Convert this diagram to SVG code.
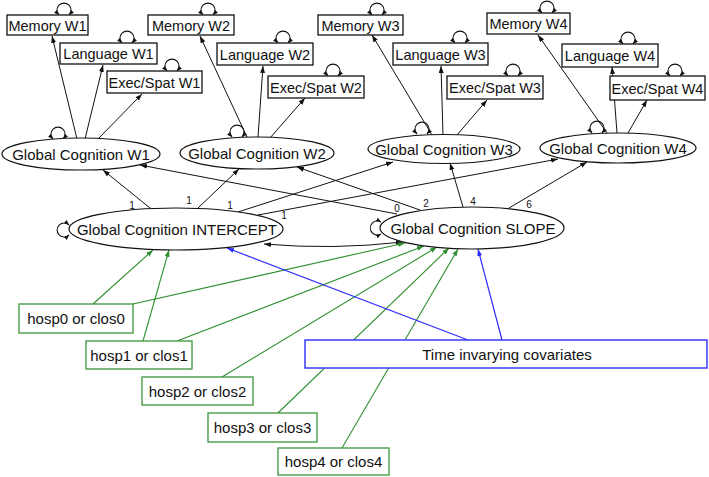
<svg xmlns="http://www.w3.org/2000/svg" width="709" height="477" viewBox="0 0 709 477">
<defs>
<marker id="ak" markerUnits="userSpaceOnUse" markerWidth="8" markerHeight="6" refX="7" refY="2.5" orient="auto-start-reverse"><path d="M0,0 L7,2.5 L0,5 z" fill="#111"/></marker>
<marker id="ag" markerUnits="userSpaceOnUse" markerWidth="8" markerHeight="6" refX="7" refY="2.5" orient="auto"><path d="M0,0 L7,2.5 L0,5 z" fill="#2f8f2f"/></marker>
<marker id="ab" markerUnits="userSpaceOnUse" markerWidth="8" markerHeight="6" refX="7" refY="2.5" orient="auto"><path d="M0,0 L7,2.5 L0,5 z" fill="#2b2bff"/></marker>
<marker id="al" markerUnits="userSpaceOnUse" markerWidth="6" markerHeight="5" refX="5" refY="2" orient="auto-start-reverse"><path d="M0,0 L5,2 L0,4 z" fill="#111"/></marker>
</defs>
<style>
.k{stroke:#111;stroke-width:1;fill:none;marker-end:url(#ak)}
.g{stroke:#2f8f2f;stroke-width:1.1;fill:none;marker-end:url(#ag)}
.b{stroke:#2b2bff;stroke-width:1.2;fill:none;marker-end:url(#ab)}
.lp{stroke:#111;stroke-width:1.1;fill:none;marker-start:url(#al);marker-end:url(#al)}
.bx{fill:#fff;stroke:#111;stroke-width:1.3}
.el{fill:#fff;stroke:#111;stroke-width:1.2}
.gx{fill:#fff;stroke:#3a963a;stroke-width:1.3}
.bl{fill:#fff;stroke:#3a3aff;stroke-width:1.5}
text{font-family:"Liberation Sans",Arial,sans-serif;font-size:15px;fill:#111;text-anchor:middle}
.t{font-size:14.5px}
.n{font-size:10px}
</style>
<g id="connectors">
<line class="k" x1="77" y1="139" x2="52" y2="36"/>
<line class="k" x1="85" y1="139" x2="103" y2="65"/>
<line class="k" x1="97" y1="140" x2="142" y2="94"/>
<line class="k" x1="247" y1="137" x2="200" y2="36"/>
<line class="k" x1="258" y1="137" x2="263" y2="66"/>
<line class="k" x1="270" y1="138" x2="305" y2="98"/>
<line class="k" x1="432" y1="135" x2="372" y2="35"/>
<line class="k" x1="443" y1="135" x2="441" y2="66"/>
<line class="k" x1="457" y1="135" x2="487" y2="100"/>
<line class="k" x1="607" y1="133" x2="538" y2="35"/>
<line class="k" x1="617" y1="133" x2="612" y2="67"/>
<line class="k" x1="628" y1="133" x2="647" y2="100"/>
<line class="k" x1="150" y1="208" x2="103" y2="170"/>
<line class="k" x1="198" y1="208" x2="239" y2="169"/>
<line class="k" x1="238" y1="212" x2="393" y2="162"/>
<line class="k" x1="258" y1="215" x2="558" y2="159"/>
<line class="k" x1="397" y1="214" x2="140" y2="165"/>
<line class="k" x1="420" y1="210" x2="297" y2="167"/>
<line class="k" x1="463" y1="207" x2="450" y2="163"/>
<line class="k" x1="509" y1="208" x2="587" y2="162"/>
<path class="k" d="M264,244 Q333,250 403,242" style="marker-start:url(#ak)"/>
<line class="g" x1="93" y1="304" x2="153" y2="250"/>
<line class="g" x1="133" y1="304" x2="405" y2="243"/>
<line class="g" x1="143" y1="341" x2="169" y2="250"/>
<line class="g" x1="177" y1="341" x2="424" y2="246"/>
<line class="g" x1="222" y1="377" x2="437" y2="247"/>
<line class="g" x1="278" y1="413" x2="449" y2="248"/>
<line class="g" x1="342" y1="448" x2="458" y2="249"/>
<line class="b" x1="468" y1="340" x2="227" y2="248"/>
<line class="b" x1="502" y1="340" x2="478" y2="249"/>
<path class="lp" d="M59,15 A7,7 0 1 1 69,15"/>
<path class="lp" d="M122,43 A7,7 0 1 1 132,43"/>
<path class="lp" d="M167,71 A7,7 0 1 1 177,71"/>
<path class="lp" d="M203,15 A7,7 0 1 1 213,15"/>
<path class="lp" d="M278,43 A7,7 0 1 1 288,43"/>
<path class="lp" d="M328,76 A7,7 0 1 1 338,76"/>
<path class="lp" d="M372,15 A7,7 0 1 1 382,15"/>
<path class="lp" d="M455,43 A7,7 0 1 1 465,43"/>
<path class="lp" d="M508,76 A7,7 0 1 1 518,76"/>
<path class="lp" d="M542,13 A7,7 0 1 1 552,13"/>
<path class="lp" d="M623,44 A7,7 0 1 1 633,44"/>
<path class="lp" d="M670,76 A7,7 0 1 1 680,76"/>
<path class="lp" d="M53,139 A7,7 0 1 1 63,139"/>
<path class="lp" d="M232,137 A7,7 0 1 1 242,137"/>
<path class="lp" d="M417,134 A7,7 0 1 1 427,134"/>
<path class="lp" d="M592,133 A7,7 0 1 1 602,133"/>
<path class="lp" d="M69,225 A7,7 0 1 0 69,235"/>
<path class="lp" d="M381,222 A7,7 0 1 0 381,234"/>
<text class="n" x="132" y="209">1</text>
<text class="n" x="189" y="204">1</text>
<text class="n" x="230" y="209">1</text>
<text class="n" x="284" y="219">1</text>
<text class="n" x="397" y="212">0</text>
<text class="n" x="426" y="207">2</text>
<text class="n" x="473" y="205">4</text>
<text class="n" x="529" y="208">6</text>
</g>
<g id="memW1"><rect class="bx" x="7" y="15" width="81" height="20"/><text class="t" x="47.5" y="30.5">Memory W1</text></g>
<g id="langW1"><rect class="bx" x="60" y="43" width="97" height="21"/><text class="t" x="108.5" y="59">Language W1</text></g>
<g id="execW1"><rect class="bx" x="107" y="71" width="95" height="22"/><text class="t" x="154.5" y="87.5">Exec/Spat W1</text></g>
<g id="memW2"><rect class="bx" x="148" y="15" width="86" height="20"/><text class="t" x="191" y="30.5">Memory W2</text></g>
<g id="langW2"><rect class="bx" x="217" y="43" width="96" height="22"/><text class="t" x="265" y="59.5">Language W2</text></g>
<g id="execW2"><rect class="bx" x="268" y="76" width="96" height="22"/><text class="t" x="316" y="92.5">Exec/Spat W2</text></g>
<g id="memW3"><rect class="bx" x="318" y="15" width="85" height="20"/><text class="t" x="360.5" y="30.5">Memory W3</text></g>
<g id="langW3"><rect class="bx" x="393" y="43" width="95" height="22"/><text class="t" x="440.5" y="59.5">Language W3</text></g>
<g id="execW3"><rect class="bx" x="447" y="76" width="96" height="23"/><text class="t" x="495" y="93">Exec/Spat W3</text></g>
<g id="memW4"><rect class="bx" x="487" y="13" width="83" height="21"/><text class="t" x="528.5" y="29">Memory W4</text></g>
<g id="langW4"><rect class="bx" x="562" y="44" width="96" height="23"/><text class="t" x="610" y="61">Language W4</text></g>
<g id="execW4"><rect class="bx" x="610" y="76" width="95" height="24"/><text class="t" x="657.5" y="93.5">Exec/Spat W4</text></g>
<g id="gcW1"><ellipse class="el" cx="81" cy="154" rx="79" ry="16"/><text x="81" y="159.5">Global Cognition W1</text></g>
<g id="gcW2"><ellipse class="el" cx="257" cy="153" rx="77" ry="16"/><text x="257" y="158.5">Global Cognition W2</text></g>
<g id="gcW3"><ellipse class="el" cx="444" cy="149" rx="76" ry="14.5"/><text x="444" y="154.5">Global Cognition W3</text></g>
<g id="gcW4"><ellipse class="el" cx="618" cy="148" rx="78" ry="15"/><text x="618" y="153.5">Global Cognition W4</text></g>
<g id="intercept"><ellipse class="el" cx="176" cy="229" rx="107" ry="21"/><text x="177" y="234.5">Global Cognition INTERCEPT</text></g>
<g id="slope"><ellipse class="el" cx="472" cy="228" rx="92" ry="21"/><text x="473" y="233.5">Global Cognition SLOPE</text></g>
<g id="hosp0"><rect class="gx" x="19" y="304" width="114" height="29"/><text x="76" y="323.5">hosp0 or clos0</text></g>
<g id="hosp1"><rect class="gx" x="86" y="341" width="106" height="28"/><text x="139" y="360.5">hosp1 or clos1</text></g>
<g id="hosp2"><rect class="gx" x="142" y="377" width="111" height="28"/><text x="197.5" y="396.5">hosp2 or clos2</text></g>
<g id="hosp3"><rect class="gx" x="208" y="413" width="109" height="29"/><text x="262.5" y="432.5">hosp3 or clos3</text></g>
<g id="hosp4"><rect class="gx" x="278" y="448" width="111" height="27"/><text x="333.5" y="466.5">hosp4 or clos4</text></g>
<g id="tic"><rect class="bl" x="305" y="340" width="402" height="28"/><text x="507" y="359.5">Time invarying covariates</text></g>
</svg>
